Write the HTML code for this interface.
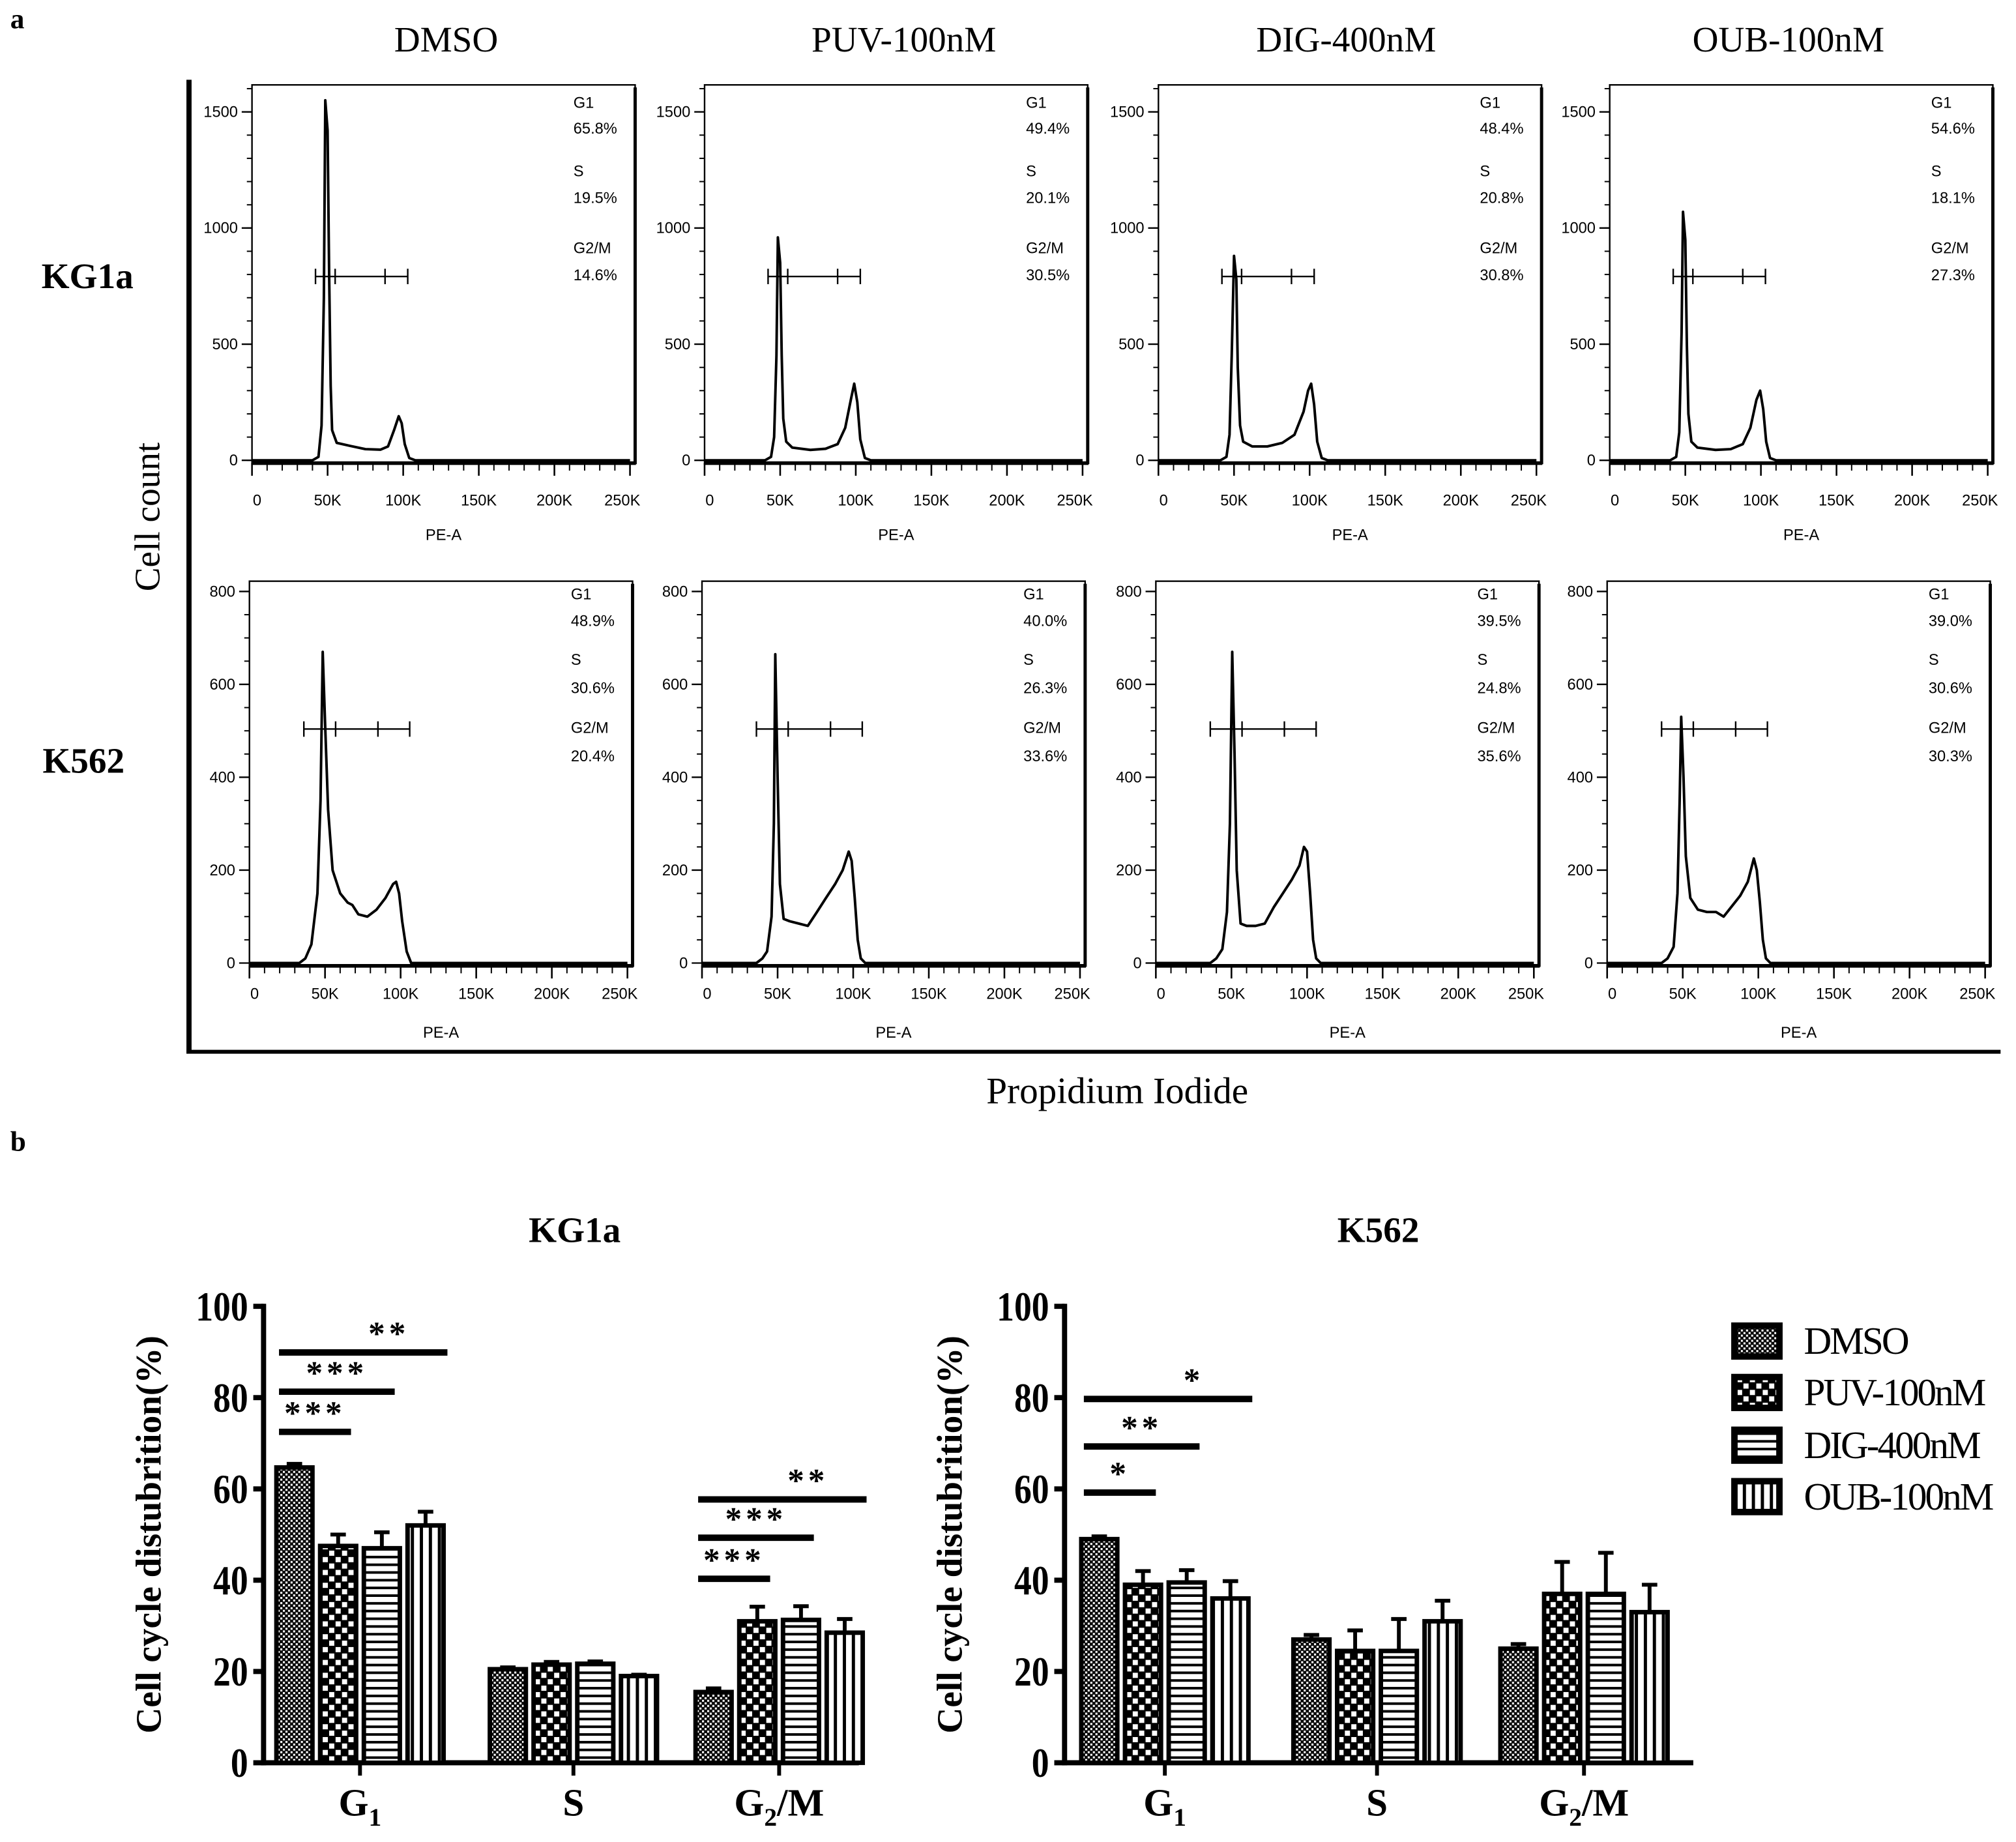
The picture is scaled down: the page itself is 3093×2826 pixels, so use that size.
<!DOCTYPE html>
<html><head><meta charset="utf-8"><style>
html,body{margin:0;padding:0;background:#fff}
svg{display:block}
.serif{font-family:"Liberation Serif",serif}
.sans{font-family:"Liberation Sans",sans-serif}
</style></head><body>
<svg id="fig" width="3093" height="2826" viewBox="0 0 1568 1432.6" xmlns="http://www.w3.org/2000/svg">
<defs>
<pattern id="p-dmso" width="4" height="4" patternUnits="userSpaceOnUse"><rect width="4" height="4" fill="#000"/><rect x="0" y="0" width="1.6" height="1.6" fill="#fff"/><rect x="2" y="2" width="1.6" height="1.6" fill="#fff"/></pattern>
<pattern id="p-puv" width="10" height="10" patternUnits="userSpaceOnUse"><rect width="10" height="10" fill="#000"/><rect x="1" y="1" width="4" height="4" fill="#fff"/><rect x="6" y="6" width="4" height="4" fill="#fff"/></pattern>
<pattern id="p-dig" width="6" height="6" patternUnits="userSpaceOnUse"><rect width="6" height="6" fill="#000"/><rect x="0" y="0" width="6" height="4" fill="#fff"/></pattern>
<pattern id="p-oub" width="7" height="7" patternUnits="userSpaceOnUse"><rect width="7" height="7" fill="#000"/><rect x="0" y="0" width="4.5" height="7" fill="#fff"/></pattern>
</defs>
<g id="static">
<text class="serif" x="8" y="22" font-size="22" font-weight="bold">a</text>
<text class="serif" x="8" y="895" font-size="22" font-weight="bold">b</text>
<text class="serif" x="347" y="40" font-size="28" text-anchor="middle">DMSO</text>
<text class="serif" x="703" y="40" font-size="28" text-anchor="middle">PUV-100nM</text>
<text class="serif" x="1047" y="40" font-size="28" text-anchor="middle">DIG-400nM</text>
<text class="serif" x="1391" y="40" font-size="28" text-anchor="middle">OUB-100nM</text>
<text class="serif" x="68" y="224" font-size="28" font-weight="bold" text-anchor="middle">KG1a</text>
<text class="serif" x="65" y="601" font-size="28" font-weight="bold" text-anchor="middle">K562</text>
<line x1="147" y1="62" x2="147" y2="819" stroke="#000" stroke-width="4"/>
<line x1="145" y1="818" x2="1556" y2="818" stroke="#000" stroke-width="3"/>
<text class="serif" transform="translate(124,402) rotate(-90)" font-size="28" text-anchor="middle">Cell count</text>
<text class="serif" x="869" y="858" font-size="29" text-anchor="middle">Propidium Iodide</text>
<text class="serif" x="447" y="966" font-size="28" font-weight="bold" text-anchor="middle">KG1a</text>
<text class="serif" x="1072" y="966" font-size="28" font-weight="bold" text-anchor="middle">K562</text>
</g>
<g id="hists"></g>
<g id="bars"></g>
<g id="legend"></g>
</svg>
<script>
// ---------- Histogram data ----------
const histConds = ["DMSO","PUV-100nM","DIG-400nM","OUB-100nM"];
const kg1aPct = [["65.8%","19.5%","14.6%"],["49.4%","20.1%","30.5%"],["48.4%","20.8%","30.8%"],["54.6%","18.1%","27.3%"]];
const k562Pct = [["48.9%","30.6%","20.4%"],["40.0%","26.3%","33.6%"],["39.5%","24.8%","35.6%"],["39.0%","30.6%","30.3%"]];
const histXTicks = [0,50,100,150,200,250];
const histXTickLabels = ["0","50K","100K","150K","200K","250K"];
const kg1aYTicks = [0,500,1000,1500];
const k562YTicks = [0,200,400,600,800];
const kg1aGate = [42,55,88,103];
const k562Gate = [36,57,85,106];
// each curve: [PE-A (K), count]
const kg1aCurves = [
 [[0,0],[40,0],[44,15],[46,150],[47.5,700],[48.5,1550],[50,1420],[51,800],[52,320],[53,130],[56,75],[65,62],[75,48],[85,46],[90,60],[94,130],[97,190],[99,160],[101,70],[104,10],[108,0],[262,0]],
 [[0,0],[40,0],[44,15],[46,100],[47.5,450],[48.5,960],[50,850],[51,450],[52,180],[54,80],[58,55],[70,45],[80,50],[88,70],[93,140],[97,270],[99,330],[101,250],[103,90],[106,10],[110,0],[262,0]],
 [[0,0],[41,0],[45,15],[47,110],[48.5,450],[50,880],[51.5,780],[52.5,400],[54,150],[56,80],[62,60],[72,60],[82,75],[90,110],[96,210],[99,300],[101,330],[103,240],[105,80],[108,10],[112,0],[262,0]],
 [[0,0],[40,0],[44,15],[46,120],[47.5,550],[48.5,1070],[50,950],[51,500],[52,200],[54,80],[58,55],[70,45],[80,48],[88,70],[93,140],[97,260],[99.5,300],[101.5,220],[103.5,80],[106,10],[110,0],[262,0]]
];
const k562Curves = [
 [[0,0],[33,0],[37,10],[41,40],[45,150],[47,350],[48.5,670],[50,520],[52,330],[55,200],[60,150],[65,130],[68,125],[72,105],[78,100],[84,115],[90,140],[95,170],[97,175],[99,150],[101,90],[104,25],[107,0],[262,0]],
 [[0,0],[36,0],[40,10],[43,25],[46,100],[47.5,300],[48.5,665],[50,400],[51.5,170],[54,95],[58,90],[64,85],[70,80],[76,110],[82,140],[88,170],[93,200],[97,240],[99,220],[101,140],[103,50],[105,10],[108,0],[262,0]],
 [[0,0],[36,0],[40,10],[44,30],[47,110],[49,300],[50.5,670],[52,450],[53.5,200],[56,85],[60,80],[66,80],[72,85],[78,120],[84,150],[90,180],[95,210],[98,250],[100,240],[102,150],[104,50],[106,10],[109,0],[262,0]],
 [[0,0],[36,0],[40,10],[44,35],[46.5,150],[48,350],[49,530],[50.5,400],[52,230],[55,140],[60,115],[66,110],[72,110],[77,100],[82,120],[88,145],[93,175],[97,225],[99,200],[101,130],[103,50],[105,10],[108,0],[262,0]]
];
// ---------- Bar chart data ----------
const barCategories = ["G1","S","G2/M"];
const barGroups = ["DMSO","PUV-100nM","DIG-400nM","OUB-100nM"];
const kg1aMeans = [[64.7,47.5,47.0,52.0],[20.5,21.5,21.7,19.0],[15.5,31.0,31.3,28.5]];
const kg1aErr = [[0.8,2.5,3.5,3.0],[0.4,0.6,0.5,0.3],[0.8,3.2,3.0,3.0]];
const k562Means = [[49.0,39.0,39.5,36.0],[27.0,24.5,24.5,31.0],[25.0,37.0,37.0,33.0]];
const k562Err = [[0.6,3.0,2.7,3.8],[1.0,4.5,7.0,4.5],[1.0,7.0,9.0,6.0]];
const barYTicks = [0,20,40,60,80,100];
const kg1aSig = [[0,89.9,1,3,"**"],[0,81.3,1,2,"***"],[0,72.5,1,1,"***"],[2,57.7,1,3,"**"],[2,49.3,1,2,"***"],[2,40.3,1,1,"***"]];
const k562Sig = [[0,79.7,1,3,"*"],[0,69.3,1,2,"**"],[0,59.2,1,1,"*"]];

const NS="http://www.w3.org/2000/svg";
function mk(parent,tag,attrs,text){const e=document.createElementNS(NS,tag);for(const k in attrs)e.setAttribute(k,attrs[k]);if(text!==undefined)e.textContent=text;parent.appendChild(e);return e;}

// ---------- Histograms ----------
const hg=document.getElementById('hists');
function drawHist(row,col){
  const isK=row===1;
  const boxL=[196,548,901,1252][col]-(isK?2:0);
  const boxR=boxL+298;
  const top=isK?452:66, zero=isK?749:358;
  const ymax=isK?800:1500, ytop=isK?460:87;
  const sx=v=>boxL+v*(boxR-4-boxL)/250;
  const sy=v=>zero-v*(zero-ytop)/ymax;
  const g=mk(hg,'g',{});
  
  
  const box=mk(g,'rect',{x:boxL,y:top,width:boxR-boxL,height:zero-top+3,fill:'none',stroke:'#000','stroke-width':1.2});
  
  
  mk(g,'line',{x1:boxR,y1:top+2,x2:boxR,y2:zero+3,stroke:'#000','stroke-width':2.5});
  mk(g,'line',{x1:boxL,y1:zero+2,x2:boxR,y2:zero+2,stroke:'#000','stroke-width':2.5});
  // y ticks
  const yt=isK?k562YTicks:kg1aYTicks;
  const minor=isK?50:100;
  for(let v=0;v<=ymax+ (isK?0:100);v+=minor){ if(sy(v)<top)break; mk(g,'line',{x1:boxL-4,y1:sy(v),x2:boxL,y2:sy(v),stroke:'#000','stroke-width':1});}
  yt.forEach(v=>{mk(g,'line',{x1:boxL-8,y1:sy(v),x2:boxL,y2:sy(v),stroke:'#000','stroke-width':1.2});
    const t=mk(g,'text',{x:boxL-11,y:sy(v)+4,'font-size':12,'text-anchor':'end',class:'sans'},String(v));
    
    });
  // x ticks
  for(let v=0;v<=250;v+=10){const big=v%50===0;mk(g,'line',{x1:sx(v),y1:zero+2,x2:sx(v),y2:zero+(big?12:8),stroke:'#000','stroke-width':big?1.3:1});}
  histXTicks.forEach((v,i)=>{const t=mk(g,'text',{x:sx(v)+(i===0?4:i===5?-6:0),y:zero+(isK?28:35),'font-size':12,'text-anchor':'middle',class:'sans'},histXTickLabels[i]);
    
    });
  const xl=mk(g,'text',{x:(boxL+boxR)/2,y:zero+(isK?58:62),'font-size':12,'text-anchor':'middle',class:'sans'},'PE-A');
  
  
  // curve
  const pts=(isK?k562Curves:kg1aCurves)[col];
  const d=pts.map((p,i)=>(i?'L':'M')+sx(Math.min(p[0],250)).toFixed(1)+','+sy(p[1]).toFixed(1)).join('');
  const c=mk(g,'path',{d:d,fill:'none',stroke:'#000','stroke-width':2,'stroke-linejoin':'round'});
  
  
  // gate
  const gate=isK?k562Gate:kg1aGate, gy=isK?567:215;
  const gl=mk(g,'line',{x1:sx(gate[0]),y1:gy,x2:sx(gate[3]),y2:gy,stroke:'#000','stroke-width':1.2});
  
  
  gate.forEach(v=>mk(g,'line',{x1:sx(v),y1:gy-6,x2:sx(v),y2:gy+6,stroke:'#000','stroke-width':1.2}));
  // percentages
  const pct=(isK?k562Pct:kg1aPct)[col];
  const tx=boxR-48;
  const ys=isK?[466,487,517,539,570,592]:[84,104,137,158,197,218];
  const labs=['G1',pct[0],'S',pct[1],'G2/M',pct[2]];
  labs.forEach((s,i)=>{const t=mk(g,'text',{x:tx,y:ys[i],'font-size':12,class:'sans'},s);
    
    });
}
for(let r=0;r<2;r++)for(let c=0;c<4;c++)drawHist(r,c);

// ---------- Bar charts ----------
const bg=document.getElementById('bars');
const fills=['url(#p-dmso)','url(#p-puv)','url(#p-dig)','url(#p-oub)'];
function drawBars(axisX,axisR,catX,means,errs,sigs,name){
  const y0=1371,y100=1016;
  const sy=v=>y0-v*(y0-y100)/100;
  const g=mk(bg,'g',{});
  
  
  const ya=mk(g,'line',{x1:axisX,y1:y100-2,x2:axisX,y2:y0+2,stroke:'#000','stroke-width':4});
  
  
  const xa=mk(g,'line',{x1:axisX-2,y1:y0,x2:axisR,y2:y0,stroke:'#000','stroke-width':4});
  
  
  barYTicks.forEach(v=>{mk(g,'line',{x1:axisX-8,y1:sy(v),x2:axisX,y2:sy(v),stroke:'#000','stroke-width':4});
    const t=mk(g,'text',{x:axisX-12,y:sy(v)+11,'font-size':32,'font-weight':'bold','text-anchor':'end',class:'serif',transform:`translate(${axisX-12},0) scale(0.85,1) translate(${-(axisX-12)},0)`},String(v));
    
    });
  const yt=mk(g,'text',{transform:`translate(${axisX-80},${(y0+y100)/2}) rotate(-90)`,'font-size':28,'font-weight':'bold','text-anchor':'middle',class:'serif'},'Cell cycle distubrition(%)');
  
  
  const offs=[-51,-17,17,51], bw=28;
  barCategories.forEach((cat,ci)=>{
    const cx=catX[ci];
    mk(g,'line',{x1:cx,y1:y0,x2:cx,y2:y0+10,stroke:'#000','stroke-width':3});
    const t=mk(g,'text',{x:cx,y:y0+41,'font-size':30,'font-weight':'bold','text-anchor':'middle',class:'serif'});
    
    
    if(cat==='S'){t.textContent='S';}
    else{const a=mk(t,'tspan',{},'G');mk(t,'tspan',{dy:8,'font-size':20},cat==='G1'?'1':'2');if(cat!=='G1')mk(t,'tspan',{dy:-8},'/M');}
    means[ci].forEach((m,gi)=>{
      const x=cx+offs[gi]-bw/2;
      const e=errs[ci][gi];
      mk(g,'line',{x1:x+bw/2,y1:sy(m),x2:x+bw/2,y2:sy(m+e),stroke:'#000','stroke-width':3});
      mk(g,'line',{x1:x+bw/2-6,y1:sy(m+e),x2:x+bw/2+6,y2:sy(m+e),stroke:'#000','stroke-width':3});
      const r=mk(g,'rect',{x:x,y:sy(m),width:bw,height:y0-sy(m),fill:fills[gi],stroke:'#000','stroke-width':3.5});
      
      
    });
  });
  sigs.forEach(s=>{
    const cx=catX[s[0]];
    const xa1=cx+offs[0]-bw/2+2, xa2=cx+offs[s[3]]+ (s[3]===3?bw/2+3:bw/2-4);
    const l=mk(g,'line',{x1:xa1,y1:sy(s[1]),x2:xa2,y2:sy(s[1]),stroke:'#000','stroke-width':5});
    
    
    const t=mk(g,'text',{x:(xa1+xa2)/2+ (s[3]===3?20:0),y:sy(s[1])-6,'font-size':26,'font-weight':'bold','text-anchor':'middle',class:'serif','letter-spacing':3},s[4]);
    
    
  });
}
drawBars(205,668,[280,446,606],kg1aMeans,kg1aErr,kg1aSig,'kg1a');
drawBars(828,1317,[906,1071,1232],k562Means,k562Err,k562Sig,'k562');

// ---------- Legend ----------
const lg=document.getElementById('legend');
const legY=[1042,1082,1123,1163];
barGroups.forEach((n,i)=>{
  const r=mk(lg,'rect',{x:1349,y:legY[i]-11,width:35,height:24,fill:fills[i],stroke:'#000','stroke-width':5});
  
  
  const t=mk(lg,'text',{x:1403,y:legY[i]+11,'font-size':30,class:'serif','letter-spacing':-1.5},n);
  
  
});
</script>
</body></html>
